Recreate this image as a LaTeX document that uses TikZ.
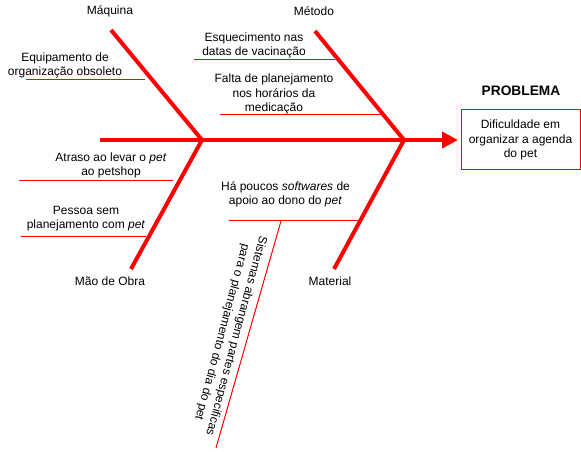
\documentclass[tikz,border=0pt]{standalone}
\usepackage{fontspec}
\setmainfont{Liberation Sans}
\usetikzlibrary{arrows.meta}
\begin{document}
\begin{tikzpicture}[x=0.75pt,y=-0.75pt,
  bone/.style={draw=red,line width=3pt},
  thin/.style={draw=red,line width=0.75pt},
  lbl/.style={inner sep=0pt,align=center,font=\fontsize{9}{10.9}\selectfont},
]
\useasboundingbox (0,0) rectangle (581,452);
% coordinates of the skeleton
\coordinate (tail) at (100,140);
\coordinate (head) at (458,140);
\coordinate (j1) at (202,140);
\coordinate (j2) at (404,140);
\coordinate (maq) at (111,30);
\coordinate (obra) at (131,269);
\coordinate (met) at (315,31);
\coordinate (mat) at (334,269);
% spine
\draw[bone,-{Triangle[length=12pt,width=12pt]}] (tail) -- (head);
\draw[bone] (maq) -- (j1) -- (obra);
\draw[bone] (met) -- (j2) -- (mat);
% category labels
\node[lbl] (lmaq) at (110,11) {Máquina};
\node[lbl] (lmet) at (314,11) {Método};
\node[lbl] (lobra) at (110,281) {Mão de Obra};
\node[lbl] (lmat) at (330,281) {Material};
% problem
\node[lbl,font=\fontsize{10.3}{11}\selectfont\bfseries] (ptitle) at (521,91) {PROBLEMA};
\node[draw=red,line width=0.75pt,minimum width=119*0.75pt,minimum height=60*0.75pt,inner sep=0pt,align=center,font=\fontsize{9}{10.9}\selectfont] (prob) at (520.5,140) {Dificuldade em\\organizar a agenda\\do pet};
% causes
\node[lbl] (c1) at (65,65.5) {Equipamento de\\organização obsoleto};
\coordinate (u1a) at (26,80); \coordinate (u1b) at (145,80);
\draw[thin] (u1a) -- (u1b);
\node[lbl] (c2) at (254,45.5) {Esquecimento nas\\datas de vacinação};
\coordinate (u2a) at (194,60); \coordinate (u2b) at (335,60);
\draw[thin] (u2a) -- (u2b);
\node[lbl] (c3) at (274,94) {Falta de planejamento\\nos horários da\\medicação};
\coordinate (u3a) at (220,115); \coordinate (u3b) at (382,115);
\draw[thin] (u3a) -- (u3b);
\node[lbl] (c4) at (111,165.5) {Atraso ao levar o \textit{pet}\\ao petshop};
\coordinate (u4a) at (19,181); \coordinate (u4b) at (173,181);
\draw[thin] (u4a) -- (u4b);
\node[lbl] (c5) at (86,218.5) {Pessoa sem\\planejamento com \textit{pet}};
\coordinate (u5a) at (21,236); \coordinate (u5b) at (146,236);
\draw[thin] (u5a) -- (u5b);
\node[lbl] (c6) at (285.5,194.5) {Há poucos \textit{softwares} de\\apoio ao dono do \textit{pet}};
\coordinate (u6a) at (229,221); \coordinate (u6b) at (360,221);
\coordinate (u6c) at (281,221); \coordinate (u6d) at (216,448);
\draw[thin] (u6a) -- (u6b);
\draw[thin] (u6c) -- (u6d);
\node[lbl,rotate=-105,font=\fontsize{9}{11}\selectfont] (c7) at (229,334) {Sistemas abrangem partes especificas\\para o planejamento do dia do pet};
\end{tikzpicture}
\end{document}
